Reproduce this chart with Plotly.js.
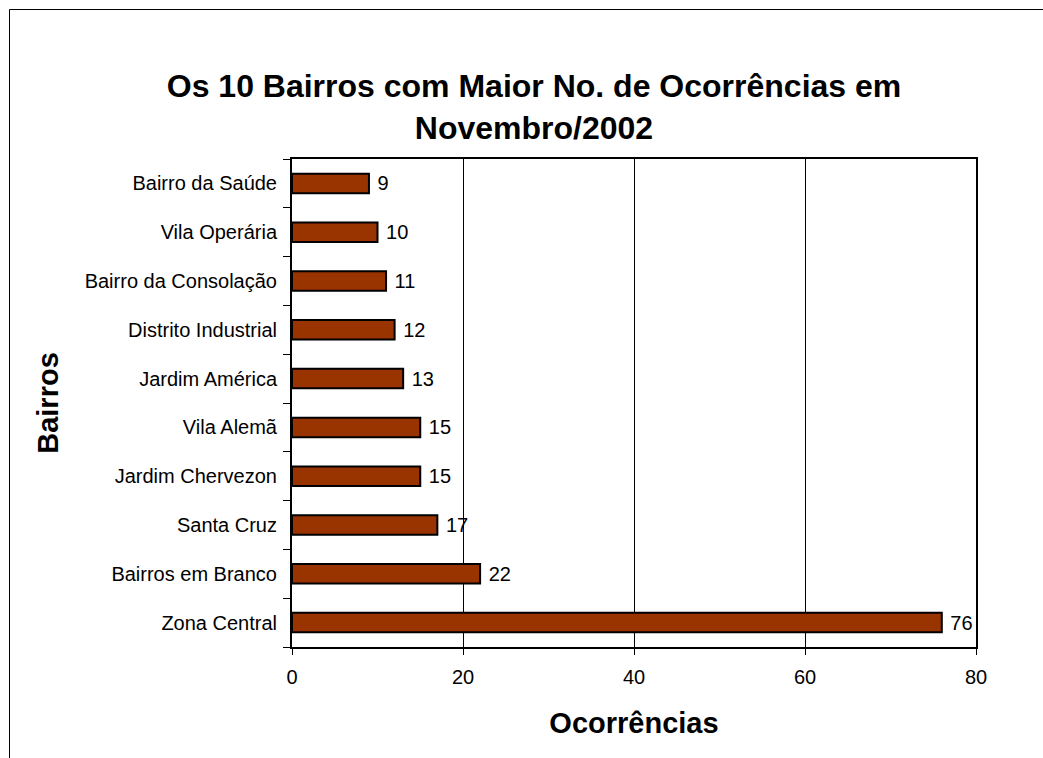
<!DOCTYPE html>
<html>
<head>
<meta charset="utf-8">
<script src="https://cdn.plot.ly/plotly-3.0.1.min.js"></script>
<style>html,body{margin:0;padding:0;background:#fff;}#chart{width:1043px;height:758px;}</style>
</head>
<body>
<div id="chart"></div>
<script>
// Categories listed bottom to top
const bairros = ["Zona Central", "Bairros em Branco", "Santa Cruz", "Jardim Chervezon", "Vila Alemã",
  "Jardim América", "Distrito Industrial", "Bairro da Consolação", "Vila Operária", "Bairro da Saúde"];
const ocorrencias = [76, 22, 17, 15, 15, 13, 12, 11, 10, 9];
const xTicks = [0, 20, 40, 60, 80];

const FONT = "Liberation Sans, Arial, Helvetica, sans-serif";

const trace = {
  type: "bar",
  orientation: "h",
  y: bairros,
  x: ocorrencias,
  text: ocorrencias.map(v => "\u00a0" + v),
  textposition: "outside",
  constraintext: "none",
  cliponaxis: false,
  textfont: {family: FONT, size: 20, color: "#000"},
  marker: {color: "#993300", line: {color: "#000", width: 2}},
  hoverinfo: "none"
};

const layout = {
  width: 1043,
  height: 758,
  margin: {l: 292, r: 67, t: 159, b: 111, autoexpand: false},
  paper_bgcolor: "#fff",
  plot_bgcolor: "#fff",
  showlegend: false,
  bargap: 0.6,
  font: {family: FONT, color: "#000"},
  title: {
    text: "Os 10 Bairros com Maior No. de Ocorrências em<br>Novembro/2002",
    font: {family: FONT, size: 32, color: "#000", weight: "bold"},
    xref: "container", x: 534 / 1043, xanchor: "center",
    yref: "container", y: 1 - 97 / 758, yanchor: "top"
  },
  xaxis: {
    range: [0, 80],
    tickvals: xTicks,
    ticktext: xTicks.map(String),
    showgrid: true, gridcolor: "#000", gridwidth: 1,
    zeroline: false,
    showline: true, linecolor: "#000", linewidth: 2, mirror: true,
    ticks: "outside", ticklen: 6, tickcolor: "#000", tickwidth: 1,
    tickfont: {family: FONT, size: 20, color: "#000"},
    ticklabelstandoff: 5,
    title: {text: "Ocorrências", font: {family: FONT, size: 29, weight: "bold", color: "#000"}, standoff: 26},
    fixedrange: true
  },
  yaxis: {
    type: "category",
    tickson: "boundaries",
    showgrid: false,
    zeroline: false,
    showline: true, linecolor: "#000", linewidth: 2, mirror: true,
    ticks: "outside", ticklen: 7, tickcolor: "#000", tickwidth: 1,
    tickfont: {family: FONT, size: 20, color: "#000"},
    ticklabelstandoff: 9,
    title: {text: "Bairros", font: {family: FONT, size: 29, weight: "bold", color: "#000"}, standoff: 18},
    fixedrange: true
  },
  shapes: [
    {type: "line", xref: "paper", yref: "paper",
     x0: (9.5 - 292) / 684, x1: (9.5 - 292) / 684,
     y0: (647 - 758) / 488, y1: (647 - 9.5) / 488,
     line: {color: "#000", width: 1}, layer: "below"},
    {type: "line", xref: "paper", yref: "paper",
     x0: (9.5 - 292) / 684, x1: (1043 - 292) / 684,
     y0: (647 - 9.5) / 488, y1: (647 - 9.5) / 488,
     line: {color: "#000", width: 1}, layer: "below"}
  ]
};

Plotly.newPlot("chart", [trace], layout, {displayModeBar: false, staticPlot: true});
</script>
</body>
</html>
